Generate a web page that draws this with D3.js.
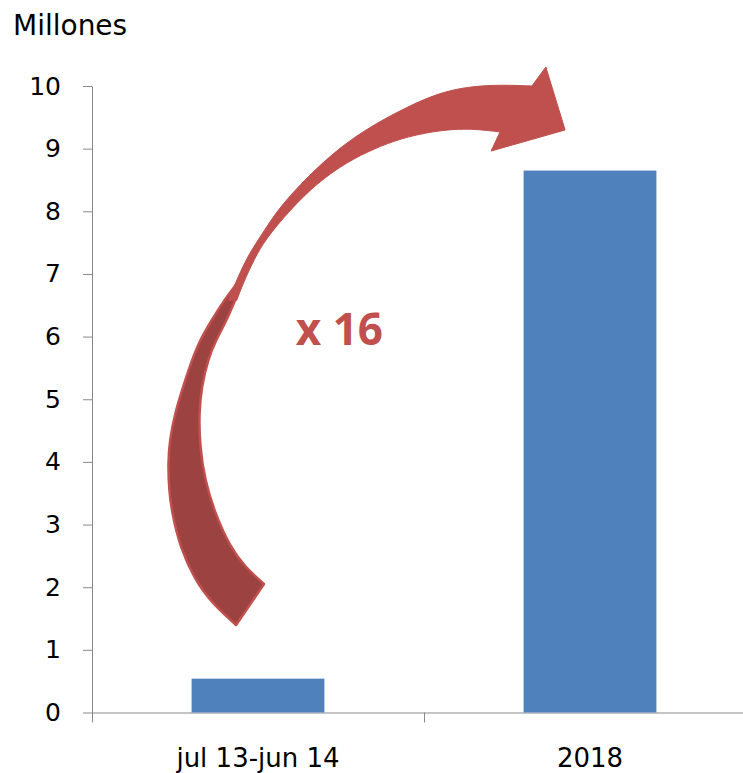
<!DOCTYPE html>
<html>
<head>
<meta charset="utf-8">
<script src="https://cdn.jsdelivr.net/npm/d3@7"></script>
<style>
  html, body { margin: 0; padding: 0; background: #fff; }
  svg { display: block; }
</style>
</head>
<body>
<svg id="chart" width="743" height="773"></svg>
<script>
// Data
const categories = ["jul 13-jun 14", "2018"];
const values = [0.54, 8.65];
const yTicks = [0, 1, 2, 3, 4, 5, 6, 7, 8, 9, 10];
const unitLabel = "Millones";
const growthLabel = "x 16";

// Curved arrow outline, in chart units (x: category steps from the axis, y: millions)
const arrowOuter = [[0.410,6.580],[0.440,6.950],[0.470,7.302],[0.530,7.781],[0.566,8.069],[0.648,8.547],[0.747,9.026],[0.846,9.377],[0.949,9.665],[1.040,9.880],[1.130,9.990],[1.229,10.020],[1.325,10.000]];
const arrowHead = [[1.325,10.000],[1.367,10.303],[1.425,9.298],[1.202,8.962],[1.229,9.266]];
const arrowInner = [[1.229,9.266],[1.130,9.330],[1.027,9.280],[0.928,9.160],[0.850,9.000],[0.768,8.787],[0.678,8.452],[0.596,8.021],[0.521,7.542],[0.490,7.250],[0.455,6.850],[0.436,6.580]];
const tailLeft = [[0.440,6.870],[0.392,6.536],[0.361,6.265],[0.325,5.946],[0.301,5.626],[0.274,5.195],[0.250,4.780],[0.234,4.350],[0.229,3.982],[0.232,3.551],[0.241,3.184],[0.265,2.642],[0.310,2.115],[0.361,1.748],[0.434,1.397]];
const tailRight = [[0.518,2.051],[0.461,2.322],[0.416,2.642],[0.370,3.184],[0.340,3.711],[0.325,4.238],[0.322,4.780],[0.331,5.227],[0.349,5.626],[0.373,5.946],[0.407,6.265],[0.448,6.800]];
const growthLabelPos = [0.614, 5.866];

// Layout
const plotLeft = 92, plotBottom = 712.5, plotTop = 86;
const bandStep = 332;
const svg = d3.select("#chart");

const x = d3.scaleBand()
  .domain(categories)
  .range([plotLeft, plotLeft + bandStep * categories.length])
  .paddingInner(0.6)
  .paddingOuter(0.3);

const y = d3.scaleLinear().domain([0, 10]).range([plotBottom, plotTop]);

// Arrow x positions measured in category steps from the axis origin
const ax = d3.scaleLinear().domain([0, 1]).range([plotLeft, plotLeft + x.step()]);

const axisColor = "#898989";
const textFont = "'DejaVu Sans', Verdana, sans-serif";

// Y axis
const yAxis = svg.append("g")
  .attr("transform", `translate(${plotLeft},0)`)
  .call(d3.axisLeft(y).tickValues(yTicks).tickSize(9).tickSizeOuter(0).tickPadding(22).tickFormat(d3.format("d")));
yAxis.select(".domain").attr("stroke", axisColor);
yAxis.selectAll(".tick line").attr("stroke", axisColor);
yAxis.selectAll(".tick text")
  .attr("fill", "#000")
  .style("font-family", textFont)
  .style("font-size", "25px");

// X axis
const xAxis = svg.append("g")
  .attr("transform", `translate(0,${plotBottom})`)
  .call(d3.axisBottom(x).tickSize(0).tickSizeOuter(0).tickPadding(36));
xAxis.select(".domain").attr("stroke", axisColor);
xAxis.selectAll(".tick text")
  .attr("fill", "#000")
  .style("font-family", textFont)
  .style("font-size", "26px");

// Category boundary tick marks
const boundaries = d3.range(categories.length + 1).map(i => x.range()[0] + i * x.step());
xAxis.selectAll(".boundary")
  .data(boundaries)
  .join("line")
  .attr("class", "boundary")
  .attr("x1", d => d + 0.5).attr("x2", d => d + 0.5)
  .attr("y1", 0).attr("y2", 10)
  .attr("stroke", axisColor);

// Bars
svg.append("g")
  .selectAll("rect")
  .data(values)
  .join("rect")
  .attr("x", (d, i) => x(categories[i]))
  .attr("width", x.bandwidth())
  .attr("y", d => y(d))
  .attr("height", d => y(0) - y(d))
  .attr("fill", "#4f81bd");

// Unit label
svg.append("text")
  .attr("x", 13)
  .attr("y", 35)
  .attr("fill", "#000")
  .style("font-family", textFont)
  .style("font-size", "28px")
  .text(unitLabel);

// Growth arrow
const curve = d3.line().x(d => ax(d[0])).y(d => y(d[1])).curve(d3.curveBasis);
const straight = d3.line().x(d => ax(d[0])).y(d => y(d[1]));
function outline(parts) {
  let d = "";
  parts.forEach(([pts, gen], i) => {
    const s = gen(pts);
    d += i === 0 ? s : "L" + s.slice(1);
  });
  return d + "Z";
}

svg.append("path")
  .attr("d", outline([[tailLeft, curve], [tailRight, curve]]))
  .attr("fill", "#9c4240")
  .attr("stroke", "#c0504d")
  .attr("stroke-width", 2.5)
  .attr("stroke-linejoin", "round");

svg.append("path")
  .attr("d", outline([[arrowOuter, curve], [arrowHead, straight], [arrowInner, curve]]))
  .attr("fill", "#c0504d")
  .attr("stroke", "#c0504d")
  .attr("stroke-width", 1)
  .attr("stroke-linejoin", "round");

// Growth factor label
svg.append("text")
  .attr("x", ax(growthLabelPos[0]))
  .attr("y", y(growthLabelPos[1]))
  .attr("fill", "#c0504d")
  .style("font-family", "'Open Sans', sans-serif")
  .style("font-weight", "bold")
  .style("font-size", "44px")
  .text(growthLabel);
</script>
</body>
</html>
